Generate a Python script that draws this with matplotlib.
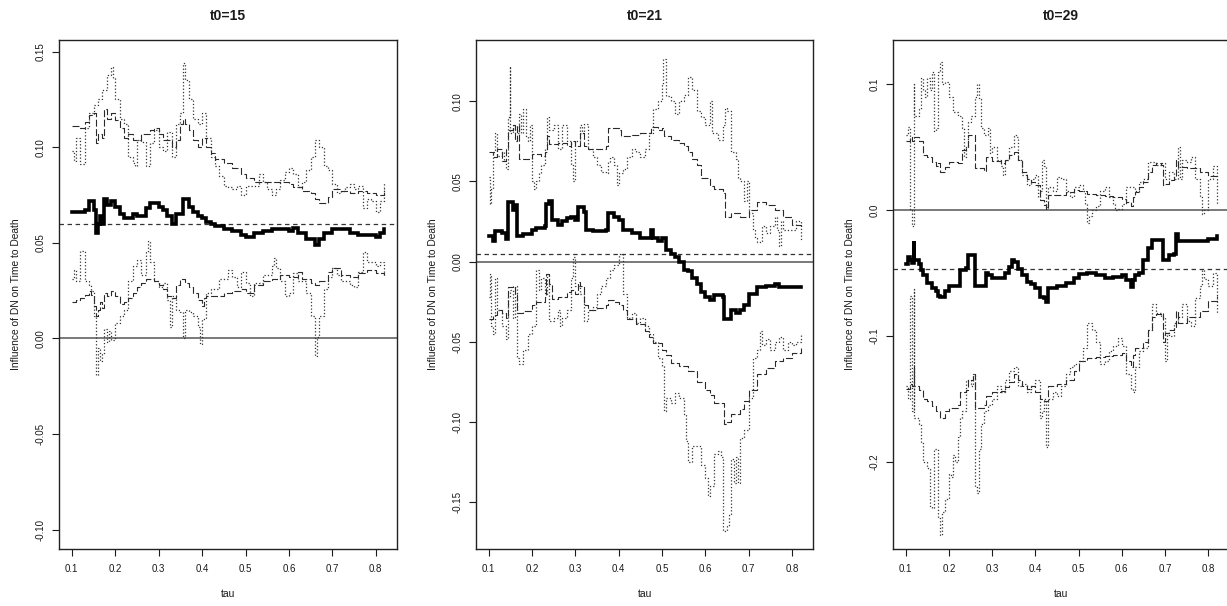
import matplotlib
matplotlib.use("Agg")
import matplotlib.pyplot as plt

plt.rcParams['font.family'] = ['Liberation Sans', 'DejaVu Sans']
plt.rcParams['lines.scale_dashes'] = False

titles = ["t0=15", "t0=21", "t0=29"]
xlabel = "tau"
ylabel = "Influence of DN on Time to Death"
xticks = [0.1, 0.2, 0.3, 0.4, 0.5, 0.6, 0.7, 0.8]
yticks_p1 = [-0.10, -0.05, 0.00, 0.05, 0.10, 0.15]
yticks_p2 = [-0.15, -0.10, -0.05, 0.00, 0.05, 0.10]
yticks_p3 = [-0.2, -0.1, 0.0, 0.1]
mean_levels = [0.0598, 0.005, -0.047]

# ---------------- panel 1 (t0=15) ----------------
p1_est_x = [0.10, 0.13, 0.14, 0.15, 0.155, 0.16, 0.165, 0.17, 0.175, 0.18, 0.19, 0.20, 0.21, 0.22, 0.24, 0.25, 0.27, 0.28,
            0.30, 0.31, 0.32, 0.33, 0.34, 0.355, 0.37, 0.38, 0.39, 0.40, 0.41, 0.42, 0.43, 0.45, 0.47, 0.49, 0.50, 0.52,
            0.54, 0.56, 0.58, 0.60, 0.61, 0.62, 0.64, 0.66, 0.67, 0.68, 0.70, 0.72, 0.74, 0.76, 0.78, 0.80, 0.81, 0.82]
p1_est_y = [0.066, 0.067, 0.072, 0.067, 0.055, 0.060, 0.064, 0.060, 0.073, 0.070, 0.072, 0.069, 0.065, 0.063, 0.065, 0.064, 0.068, 0.071,
            0.069, 0.067, 0.064, 0.060, 0.065, 0.073, 0.069, 0.066, 0.064, 0.063, 0.061, 0.060, 0.059, 0.057, 0.056, 0.054, 0.053, 0.055,
            0.056, 0.057, 0.057, 0.056, 0.058, 0.055, 0.052, 0.049, 0.052, 0.055, 0.057, 0.057, 0.055, 0.054, 0.054, 0.053, 0.055, 0.057]

p1_upd_x = [0.10, 0.12, 0.13, 0.14, 0.15, 0.155, 0.16, 0.17, 0.175, 0.18, 0.19, 0.20, 0.21, 0.22, 0.23, 0.24, 0.26, 0.28, 0.29,
            0.30, 0.31, 0.33, 0.34, 0.35, 0.355, 0.36, 0.37, 0.38, 0.39, 0.40, 0.41, 0.42, 0.43, 0.45, 0.47, 0.49, 0.50, 0.52,
            0.55, 0.58, 0.60, 0.61, 0.63, 0.65, 0.66, 0.67, 0.69, 0.70, 0.72, 0.74, 0.76, 0.78, 0.80, 0.82]
p1_upd_y = [0.111, 0.110, 0.113, 0.117, 0.118, 0.102, 0.107, 0.105, 0.120, 0.115, 0.118, 0.114, 0.110, 0.105, 0.107, 0.104, 0.107, 0.109, 0.110,
            0.107, 0.104, 0.100, 0.104, 0.112, 0.115, 0.112, 0.109, 0.104, 0.100, 0.105, 0.100, 0.097, 0.094, 0.092, 0.089, 0.086, 0.084, 0.082,
            0.082, 0.082, 0.081, 0.079, 0.077, 0.076, 0.073, 0.071, 0.074, 0.078, 0.077, 0.076, 0.077, 0.076, 0.075, 0.078]

p1_upt_x = [0.10, 0.105, 0.11, 0.12, 0.13, 0.14, 0.15, 0.16, 0.17, 0.18, 0.19, 0.195, 0.20, 0.21, 0.22, 0.23, 0.24, 0.245, 0.25, 0.26,
            0.27, 0.28, 0.29, 0.30, 0.31, 0.32, 0.33, 0.34, 0.35, 0.355, 0.36, 0.37, 0.38, 0.39, 0.40, 0.41, 0.42, 0.43, 0.44, 0.45,
            0.46, 0.47, 0.48, 0.49, 0.50, 0.52, 0.53, 0.54, 0.55, 0.56, 0.57, 0.58, 0.59, 0.60, 0.61, 0.62, 0.63, 0.64, 0.65, 0.66,
            0.67, 0.68, 0.69, 0.70, 0.71, 0.72, 0.73, 0.74, 0.75, 0.76, 0.77, 0.78, 0.79, 0.80, 0.81, 0.82]
p1_upt_y = [0.098, 0.093, 0.105, 0.091, 0.110, 0.118, 0.122, 0.125, 0.130, 0.138, 0.142, 0.136, 0.125, 0.115, 0.112, 0.095, 0.092, 0.090, 0.104, 0.103,
            0.090, 0.102, 0.109, 0.100, 0.098, 0.108, 0.095, 0.112, 0.118, 0.144, 0.135, 0.125, 0.115, 0.112, 0.118, 0.105, 0.095, 0.090, 0.085, 0.080,
            0.079, 0.078, 0.080, 0.075, 0.080, 0.080, 0.086, 0.082, 0.078, 0.075, 0.078, 0.083, 0.087, 0.089, 0.086, 0.079, 0.082, 0.088, 0.095, 0.104,
            0.100, 0.090, 0.088, 0.081, 0.076, 0.077, 0.079, 0.081, 0.078, 0.080, 0.068, 0.073, 0.072, 0.066, 0.072, 0.082]

p1_lod_x = [0.10, 0.11, 0.12, 0.13, 0.14, 0.145, 0.15, 0.155, 0.16, 0.165, 0.17, 0.175, 0.18, 0.19, 0.20, 0.21, 0.22, 0.23, 0.24, 0.25,
            0.26, 0.27, 0.29, 0.30, 0.31, 0.32, 0.33, 0.34, 0.35, 0.36, 0.37, 0.38, 0.39, 0.40, 0.405, 0.41, 0.43, 0.45, 0.47, 0.49,
            0.50, 0.52, 0.54, 0.56, 0.58, 0.60, 0.62, 0.63, 0.65, 0.66, 0.67, 0.69, 0.70, 0.72, 0.74, 0.76, 0.78, 0.80, 0.82]
p1_lod_y = [0.019, 0.020, 0.021, 0.023, 0.025, 0.023, 0.017, 0.012, 0.015, 0.019, 0.016, 0.024, 0.022, 0.025, 0.022, 0.018, 0.019, 0.021, 0.024, 0.027,
            0.029, 0.031, 0.030, 0.028, 0.026, 0.022, 0.021, 0.028, 0.031, 0.029, 0.027, 0.024, 0.020, 0.017, 0.021, 0.022, 0.022, 0.024, 0.025, 0.026,
            0.024, 0.028, 0.030, 0.031, 0.033, 0.032, 0.035, 0.031, 0.029, 0.028, 0.030, 0.035, 0.037, 0.033, 0.032, 0.034, 0.036, 0.034, 0.033]

p1_lot_x = [0.10, 0.105, 0.11, 0.12, 0.13, 0.14, 0.145, 0.15, 0.155, 0.16, 0.165, 0.17, 0.175, 0.18, 0.185, 0.19, 0.20, 0.21, 0.22, 0.23,
            0.24, 0.25, 0.26, 0.27, 0.275, 0.28, 0.29, 0.30, 0.31, 0.32, 0.325, 0.33, 0.34, 0.35, 0.355, 0.36, 0.37, 0.38, 0.39, 0.395,
            0.40, 0.41, 0.42, 0.44, 0.46, 0.47, 0.48, 0.49, 0.50, 0.51, 0.52, 0.54, 0.56, 0.565, 0.57, 0.58, 0.59, 0.60, 0.61, 0.62,
            0.64, 0.65, 0.66, 0.665, 0.67, 0.68, 0.69, 0.70, 0.71, 0.72, 0.74, 0.75, 0.76, 0.77, 0.78, 0.80, 0.81, 0.82]
p1_lot_y = [0.031, 0.036, 0.030, 0.046, 0.030, 0.028, 0.025, 0.012, -0.019, -0.005, -0.012, -0.008, 0.005, -0.002, 0.004, -0.001, 0.008, 0.012, 0.015, 0.030,
            0.038, 0.041, 0.033, 0.045, 0.051, 0.040, 0.030, 0.027, 0.029, 0.020, 0.006, 0.022, 0.015, 0.014, 0.000, 0.015, 0.014, 0.012, 0.006, -0.003,
            0.010, 0.024, 0.026, 0.031, 0.036, 0.032, 0.027, 0.035, 0.029, 0.022, 0.029, 0.033, 0.038, 0.042, 0.037, 0.030, 0.022, 0.024, 0.034, 0.030,
            0.024, 0.012, -0.009, 0.001, 0.012, 0.026, 0.032, 0.037, 0.033, 0.030, 0.028, 0.027, 0.035, 0.045, 0.040, 0.038, 0.040, 0.033]

# ---------------- panel 2 (t0=21) ----------------
p2_est_x = [0.10, 0.11, 0.115, 0.13, 0.14, 0.145, 0.155, 0.16, 0.165, 0.18, 0.20, 0.21, 0.23, 0.232, 0.24, 0.245, 0.26, 0.27, 0.28,
            0.29, 0.30, 0.305, 0.32, 0.325, 0.34, 0.37, 0.375, 0.39, 0.40, 0.41, 0.43, 0.45, 0.47, 0.475, 0.48, 0.49, 0.50, 0.51,
            0.52, 0.53, 0.54, 0.55, 0.56, 0.57, 0.58, 0.59, 0.60, 0.61, 0.62, 0.64, 0.642, 0.65, 0.66, 0.67, 0.68, 0.69, 0.70,
            0.72, 0.74, 0.76, 0.77, 0.80, 0.82]
p2_est_y = [0.016, 0.013, 0.019, 0.018, 0.014, 0.037, 0.032, 0.035, 0.016, 0.017, 0.020, 0.021, 0.022, 0.036, 0.038, 0.026, 0.023, 0.025, 0.027,
            0.028, 0.026, 0.034, 0.031, 0.020, 0.019, 0.020, 0.030, 0.028, 0.026, 0.020, 0.018, 0.015, 0.015, 0.020, 0.015, 0.013, 0.015, 0.007,
            0.005, 0.003, 0.000, -0.005, -0.006, -0.010, -0.014, -0.019, -0.022, -0.024, -0.021, -0.022, -0.036, -0.036, -0.030, -0.032, -0.030, -0.027, -0.020,
            -0.016, -0.015, -0.014, -0.016, -0.016, -0.016]

p2_upd_x = [0.10, 0.11, 0.12, 0.13, 0.14, 0.145, 0.155, 0.16, 0.165, 0.17, 0.19, 0.20, 0.22, 0.23, 0.235, 0.24, 0.26, 0.28, 0.29,
            0.30, 0.31, 0.32, 0.33, 0.35, 0.37, 0.375, 0.40, 0.405, 0.43, 0.45, 0.47, 0.475, 0.49, 0.50, 0.505, 0.52, 0.54, 0.55,
            0.56, 0.57, 0.58, 0.59, 0.61, 0.62, 0.64, 0.645, 0.66, 0.67, 0.68, 0.70, 0.72, 0.74, 0.76, 0.78, 0.80, 0.82]
p2_upd_y = [0.068, 0.065, 0.070, 0.063, 0.070, 0.082, 0.085, 0.075, 0.085, 0.064, 0.064, 0.067, 0.066, 0.068, 0.078, 0.073, 0.074, 0.072, 0.075,
            0.072, 0.080, 0.072, 0.070, 0.070, 0.072, 0.083, 0.082, 0.078, 0.079, 0.080, 0.080, 0.084, 0.082, 0.083, 0.078, 0.076, 0.074, 0.072,
            0.068, 0.064, 0.060, 0.052, 0.047, 0.045, 0.043, 0.028, 0.030, 0.030, 0.028, 0.032, 0.037, 0.035, 0.032, 0.028, 0.023, 0.021]

p2_upt_x = [0.10, 0.102, 0.105, 0.11, 0.115, 0.12, 0.13, 0.135, 0.14, 0.145, 0.148, 0.15, 0.155, 0.16, 0.17, 0.175, 0.18, 0.185, 0.19,
            0.195, 0.20, 0.205, 0.21, 0.215, 0.22, 0.23, 0.235, 0.24, 0.25, 0.26, 0.27, 0.28, 0.29, 0.295, 0.30, 0.31, 0.315, 0.32,
            0.33, 0.34, 0.35, 0.36, 0.37, 0.375, 0.38, 0.39, 0.395, 0.40, 0.41, 0.42, 0.43, 0.44, 0.45, 0.46, 0.47, 0.48, 0.49,
            0.50, 0.503, 0.51, 0.52, 0.53, 0.54, 0.55, 0.56, 0.57, 0.58, 0.59, 0.60, 0.61, 0.615, 0.62, 0.63, 0.64, 0.645, 0.65,
            0.66, 0.67, 0.675, 0.68, 0.69, 0.695, 0.70, 0.71, 0.715, 0.72, 0.73, 0.74, 0.75, 0.76, 0.765, 0.77, 0.775, 0.78, 0.80,
            0.81, 0.82]
p2_upt_y = [0.053, 0.036, 0.045, 0.068, 0.080, 0.066, 0.068, 0.063, 0.058, 0.090, 0.122, 0.080, 0.085, 0.080, 0.092, 0.080, 0.095, 0.078, 0.075,
            0.085, 0.050, 0.045, 0.050, 0.055, 0.060, 0.070, 0.090, 0.082, 0.085, 0.070, 0.085, 0.075, 0.060, 0.050, 0.075, 0.085, 0.080, 0.086,
            0.070, 0.065, 0.060, 0.056, 0.055, 0.062, 0.065, 0.060, 0.048, 0.055, 0.058, 0.065, 0.070, 0.068, 0.065, 0.070, 0.080, 0.095, 0.100,
            0.110, 0.126, 0.103, 0.100, 0.092, 0.100, 0.104, 0.115, 0.107, 0.094, 0.090, 0.085, 0.100, 0.080, 0.080, 0.076, 0.085, 0.096, 0.094,
            0.068, 0.064, 0.052, 0.050, 0.038, 0.050, 0.030, 0.020, 0.015, 0.012, 0.022, 0.018, 0.022, 0.028, 0.020, 0.010, 0.025, 0.020, 0.020,
            0.025, 0.013]

p2_lod_x = [0.10, 0.11, 0.12, 0.13, 0.14, 0.145, 0.155, 0.16, 0.165, 0.18, 0.20, 0.21, 0.23, 0.232, 0.24, 0.245, 0.26, 0.28, 0.29,
            0.30, 0.305, 0.31, 0.32, 0.33, 0.35, 0.37, 0.375, 0.39, 0.40, 0.41, 0.42, 0.44, 0.46, 0.47, 0.48, 0.50, 0.51, 0.52,
            0.54, 0.56, 0.58, 0.60, 0.61, 0.62, 0.64, 0.642, 0.65, 0.66, 0.68, 0.69, 0.70, 0.72, 0.74, 0.76, 0.78, 0.80, 0.82]
p2_lod_y = [-0.036, -0.033, -0.030, -0.032, -0.035, -0.016, -0.015, -0.020, -0.032, -0.031, -0.027, -0.025, -0.022, -0.008, -0.014, -0.023, -0.022, -0.019, -0.018,
            -0.020, -0.013, -0.015, -0.027, -0.030, -0.029, -0.027, -0.024, -0.025, -0.027, -0.030, -0.036, -0.039, -0.043, -0.047, -0.051, -0.055, -0.058, -0.063,
            -0.065, -0.068, -0.075, -0.080, -0.083, -0.088, -0.088, -0.101, -0.100, -0.095, -0.092, -0.087, -0.080, -0.070, -0.066, -0.062, -0.060, -0.057, -0.054]

p2_lot_x = [0.10, 0.102, 0.105, 0.11, 0.115, 0.12, 0.13, 0.14, 0.145, 0.15, 0.155, 0.16, 0.165, 0.17, 0.18, 0.19, 0.20, 0.21, 0.215,
            0.22, 0.23, 0.235, 0.24, 0.25, 0.26, 0.265, 0.27, 0.28, 0.29, 0.295, 0.30, 0.31, 0.32, 0.33, 0.34, 0.35, 0.36, 0.37,
            0.38, 0.39, 0.40, 0.41, 0.42, 0.43, 0.44, 0.45, 0.46, 0.47, 0.48, 0.49, 0.50, 0.505, 0.51, 0.52, 0.53, 0.54, 0.55,
            0.555, 0.56, 0.57, 0.58, 0.59, 0.60, 0.605, 0.61, 0.62, 0.63, 0.635, 0.64, 0.65, 0.655, 0.66, 0.665, 0.67, 0.675, 0.68,
            0.69, 0.70, 0.71, 0.72, 0.725, 0.73, 0.74, 0.75, 0.76, 0.77, 0.78, 0.79, 0.80, 0.81, 0.82]
p2_lot_y = [-0.022, -0.008, -0.040, -0.045, -0.010, -0.030, -0.040, -0.048, -0.022, -0.018, -0.035, -0.015, -0.060, -0.064, -0.055, -0.045, -0.040, -0.005, -0.018,
            -0.010, -0.020, -0.008, -0.037, -0.035, -0.030, -0.040, -0.035, -0.030, -0.010, 0.003, -0.015, -0.020, -0.037, -0.030, -0.028, -0.020, -0.015, -0.010,
            -0.005, -0.002, 0.005, -0.020, -0.035, -0.032, -0.038, -0.035, -0.040, -0.045, -0.050, -0.060, -0.065, -0.093, -0.085, -0.088, -0.082, -0.085, -0.095,
            -0.112, -0.125, -0.115, -0.115, -0.127, -0.135, -0.146, -0.140, -0.120, -0.118, -0.122, -0.168, -0.165, -0.158, -0.123, -0.138, -0.122, -0.138, -0.110,
            -0.105, -0.085, -0.060, -0.055, -0.043, -0.052, -0.048, -0.055, -0.050, -0.047, -0.055, -0.050, -0.052, -0.050, -0.046]

# ---------------- panel 3 (t0=29) ----------------
p3_est_x = [0.10, 0.105, 0.11, 0.115, 0.118, 0.12, 0.13, 0.135, 0.14, 0.15, 0.16, 0.17, 0.175, 0.18, 0.19, 0.20, 0.22, 0.225, 0.24,
            0.245, 0.255, 0.26, 0.28, 0.285, 0.29, 0.30, 0.32, 0.33, 0.34, 0.345, 0.35, 0.36, 0.37, 0.38, 0.39, 0.40, 0.41, 0.42,
            0.425, 0.43, 0.45, 0.47, 0.49, 0.50, 0.52, 0.54, 0.56, 0.58, 0.60, 0.61, 0.62, 0.625, 0.63, 0.64, 0.65, 0.66, 0.67,
            0.69, 0.695, 0.71, 0.72, 0.725, 0.73, 0.75, 0.78, 0.80, 0.82]
p3_est_y = [-0.043, -0.037, -0.040, -0.042, -0.025, -0.040, -0.043, -0.048, -0.052, -0.058, -0.062, -0.064, -0.068, -0.069, -0.064, -0.060, -0.060, -0.048, -0.046,
            -0.036, -0.036, -0.060, -0.060, -0.050, -0.052, -0.054, -0.054, -0.050, -0.045, -0.040, -0.041, -0.047, -0.052, -0.057, -0.059, -0.062, -0.069, -0.070,
            -0.073, -0.062, -0.060, -0.058, -0.054, -0.051, -0.050, -0.052, -0.054, -0.053, -0.052, -0.056, -0.061, -0.056, -0.052, -0.050, -0.040, -0.030, -0.024,
            -0.024, -0.040, -0.036, -0.035, -0.019, -0.025, -0.025, -0.025, -0.023, -0.021]

p3_upd_x = [0.10, 0.11, 0.115, 0.12, 0.13, 0.14, 0.15, 0.16, 0.17, 0.175, 0.18, 0.19, 0.20, 0.22, 0.23, 0.24, 0.245, 0.255, 0.26,
            0.28, 0.285, 0.30, 0.32, 0.33, 0.34, 0.35, 0.36, 0.37, 0.38, 0.39, 0.40, 0.41, 0.42, 0.425, 0.43, 0.45, 0.47, 0.49,
            0.50, 0.52, 0.54, 0.56, 0.58, 0.60, 0.61, 0.62, 0.625, 0.63, 0.64, 0.65, 0.66, 0.67, 0.68, 0.69, 0.695, 0.70, 0.71,
            0.72, 0.725, 0.73, 0.75, 0.78, 0.80, 0.82]
p3_upd_y = [0.055, 0.058, 0.055, 0.058, 0.055, 0.044, 0.042, 0.038, 0.035, 0.037, 0.030, 0.034, 0.038, 0.037, 0.048, 0.050, 0.060, 0.060, 0.033,
            0.031, 0.042, 0.039, 0.037, 0.040, 0.044, 0.046, 0.040, 0.030, 0.025, 0.022, 0.020, 0.008, 0.004, 0.001, 0.012, 0.012, 0.014, 0.016,
            0.015, 0.013, 0.012, 0.011, 0.010, 0.009, 0.006, 0.003, 0.010, 0.014, 0.018, 0.022, 0.030, 0.036, 0.037, 0.036, 0.020, 0.021, 0.024,
            0.026, 0.040, 0.034, 0.033, 0.030, 0.027, 0.025]

p3_upt_x = [0.10, 0.105, 0.11, 0.115, 0.118, 0.12, 0.13, 0.135, 0.14, 0.145, 0.15, 0.155, 0.16, 0.165, 0.17, 0.175, 0.18, 0.185, 0.19,
            0.20, 0.21, 0.22, 0.23, 0.235, 0.24, 0.245, 0.25, 0.26, 0.265, 0.27, 0.275, 0.28, 0.29, 0.295, 0.30, 0.31, 0.32, 0.325,
            0.33, 0.34, 0.35, 0.355, 0.36, 0.37, 0.38, 0.39, 0.40, 0.405, 0.41, 0.415, 0.42, 0.425, 0.43, 0.44, 0.45, 0.46, 0.47,
            0.48, 0.49, 0.50, 0.51, 0.515, 0.52, 0.525, 0.53, 0.54, 0.55, 0.56, 0.57, 0.58, 0.585, 0.59, 0.60, 0.61, 0.62, 0.63,
            0.64, 0.65, 0.66, 0.67, 0.68, 0.69, 0.70, 0.71, 0.72, 0.73, 0.735, 0.74, 0.75, 0.76, 0.77, 0.78, 0.785, 0.79, 0.80,
            0.81, 0.82]
p3_upt_y = [0.060, 0.066, 0.000, -0.013, 0.100, 0.075, 0.080, 0.105, 0.095, 0.090, 0.105, 0.095, 0.110, 0.063, 0.065, 0.110, 0.118, 0.100, 0.102,
            0.090, 0.078, 0.075, 0.065, 0.042, 0.050, 0.070, 0.075, 0.090, 0.100, 0.088, 0.065, 0.060, 0.065, 0.045, 0.050, 0.040, 0.035, 0.028,
            0.040, 0.050, 0.060, 0.058, 0.040, 0.028, 0.020, 0.025, 0.028, 0.010, 0.015, 0.040, 0.035, 0.002, 0.018, 0.015, 0.026, 0.025, 0.015,
            0.010, 0.018, 0.020, 0.015, 0.005, -0.010, -0.005, 0.000, 0.003, 0.015, 0.018, 0.010, 0.005, 0.000, 0.001, 0.005, 0.018, 0.018, 0.015,
            0.022, 0.025, 0.038, 0.038, 0.036, 0.037, 0.025, 0.030, 0.025, 0.050, 0.025, 0.040, 0.038, 0.042, 0.025, 0.010, -0.003, 0.000, 0.025,
            0.035, 0.005]

p3_lod_x = [0.10, 0.11, 0.115, 0.118, 0.12, 0.13, 0.14, 0.15, 0.16, 0.17, 0.18, 0.19, 0.20, 0.22, 0.225, 0.24, 0.245, 0.255, 0.26,
            0.28, 0.285, 0.30, 0.32, 0.33, 0.34, 0.35, 0.36, 0.37, 0.38, 0.39, 0.40, 0.41, 0.42, 0.43, 0.45, 0.47, 0.49, 0.50,
            0.52, 0.54, 0.56, 0.58, 0.60, 0.61, 0.62, 0.625, 0.63, 0.64, 0.65, 0.66, 0.67, 0.68, 0.69, 0.695, 0.70, 0.71, 0.72,
            0.725, 0.73, 0.75, 0.78, 0.80, 0.82]
p3_lod_y = [-0.142, -0.138, -0.140, -0.125, -0.140, -0.143, -0.150, -0.152, -0.156, -0.160, -0.165, -0.160, -0.157, -0.155, -0.145, -0.143, -0.135, -0.130, -0.157,
            -0.155, -0.148, -0.145, -0.144, -0.141, -0.137, -0.130, -0.135, -0.140, -0.142, -0.140, -0.145, -0.150, -0.152, -0.140, -0.138, -0.135, -0.128, -0.120,
            -0.118, -0.117, -0.116, -0.115, -0.114, -0.120, -0.125, -0.115, -0.110, -0.110, -0.105, -0.095, -0.085, -0.083, -0.082, -0.105, -0.098, -0.095, -0.093,
            -0.080, -0.090, -0.085, -0.080, -0.072, -0.068]

p3_lot_x = [0.10, 0.105, 0.11, 0.115, 0.118, 0.12, 0.13, 0.135, 0.14, 0.15, 0.155, 0.16, 0.165, 0.17, 0.175, 0.18, 0.185, 0.19, 0.20,
            0.205, 0.21, 0.215, 0.22, 0.225, 0.23, 0.24, 0.25, 0.255, 0.26, 0.265, 0.27, 0.275, 0.28, 0.29, 0.30, 0.31, 0.32, 0.33,
            0.34, 0.35, 0.36, 0.37, 0.38, 0.39, 0.40, 0.41, 0.415, 0.42, 0.425, 0.43, 0.44, 0.45, 0.46, 0.47, 0.48, 0.49, 0.50,
            0.51, 0.52, 0.53, 0.54, 0.55, 0.56, 0.57, 0.58, 0.59, 0.60, 0.61, 0.62, 0.625, 0.63, 0.64, 0.65, 0.66, 0.67, 0.68,
            0.69, 0.70, 0.705, 0.71, 0.72, 0.73, 0.74, 0.75, 0.76, 0.77, 0.78, 0.785, 0.79, 0.80, 0.81, 0.82]
p3_lot_y = [-0.140, -0.150, -0.068, -0.160, -0.063, -0.165, -0.170, -0.185, -0.200, -0.205, -0.235, -0.237, -0.190, -0.190, -0.245, -0.258, -0.240, -0.230, -0.210,
            -0.212, -0.195, -0.200, -0.180, -0.165, -0.160, -0.135, -0.140, -0.130, -0.220, -0.225, -0.190, -0.170, -0.160, -0.155, -0.150, -0.140, -0.145, -0.135,
            -0.128, -0.125, -0.140, -0.138, -0.145, -0.140, -0.135, -0.165, -0.160, -0.150, -0.188, -0.150, -0.145, -0.148, -0.140, -0.130, -0.125, -0.122, -0.120,
            -0.110, -0.090, -0.095, -0.105, -0.122, -0.120, -0.112, -0.108, -0.102, -0.108, -0.130, -0.142, -0.145, -0.125, -0.112, -0.110, -0.095, -0.075, -0.082,
            -0.085, -0.120, -0.098, -0.100, -0.090, -0.085, -0.075, -0.088, -0.092, -0.070, -0.060, -0.048, -0.055, -0.060, -0.050, -0.082]

panels = [
    dict(title=titles[0], yticks=yticks_p1, fmt="{:.2f}", ylim=(-0.1101, 0.1561), mean=mean_levels[0],
         est=(p1_est_x, p1_est_y), upd=(p1_upd_x, p1_upd_y), upt=(p1_upt_x, p1_upt_y),
         lod=(p1_lod_x, p1_lod_y), lot=(p1_lot_x, p1_lot_y), left=59.3, right=397.0),
    dict(title=titles[1], yticks=yticks_p2, fmt="{:.2f}", ylim=(-0.1791, 0.1381), mean=mean_levels[1],
         est=(p2_est_x, p2_est_y), upd=(p2_upd_x, p2_upd_y), upt=(p2_upt_x, p2_upt_y),
         lod=(p2_lod_x, p2_lod_y), lot=(p2_lot_x, p2_lot_y), left=476.3, right=813.3),
    dict(title=titles[2], yticks=yticks_p3, fmt="{:.1f}", ylim=(-0.2694, 0.1351), mean=mean_levels[2],
         est=(p3_est_x, p3_est_y), upd=(p3_upd_x, p3_upd_y), upt=(p3_upt_x, p3_upt_y),
         lod=(p3_lod_x, p3_lod_y), lot=(p3_lot_x, p3_lot_y), left=893.3, right=1229.4),
]

W, H = 1227, 606
top_px, bot_px = 40.0, 549.0
fig = plt.figure(figsize=(W / 100, H / 100), dpi=100)

ink = "#1a1a1a"
for p in panels:
    ax = fig.add_axes([p["left"] / W, (H - bot_px) / H, (p["right"] - p["left"]) / W, (bot_px - top_px) / H])
    ax.set_xlim(0.0712, 0.8488)
    ax.set_ylim(*p["ylim"])
    ax.axhline(0.0, color="#555555", lw=1.1, zorder=1)
    ax.axhline(p["mean"], color="#333333", lw=0.9, linestyle=(0, (3.2, 2.6)), zorder=1)
    for key in ("upd", "lod"):
        xs, ys = p[key]
        ax.plot(xs, ys, drawstyle="steps-post", color="#2a2a2a", lw=0.8, linestyle=(0, (5.0, 1.8)), zorder=2)
    for key in ("upt", "lot"):
        xs, ys = p[key]
        ax.plot(xs, ys, drawstyle="steps-post", color="#333333", lw=0.9, linestyle=(0, (0.9, 1.5)), zorder=2)
    xs, ys = p["est"]
    ax.plot(xs, ys, drawstyle="steps-post", color="black", lw=2.6, zorder=3, solid_joinstyle="miter")

    ax.set_xticks(xticks)
    ax.set_xticklabels(["{:.1f}".format(v) for v in xticks])
    ax.set_yticks(p["yticks"])
    ax.set_yticklabels([p["fmt"].format(v) for v in p["yticks"]])
    ax.tick_params(axis="both", direction="out", length=5, width=0.8, labelsize=7, colors=ink)
    ax.tick_params(axis="x", pad=6)
    ax.tick_params(axis="y", pad=5)
    for lab in ax.get_yticklabels():
        lab.set_rotation(90)
        lab.set_va("center")
    for s in ax.spines.values():
        s.set_linewidth(1.0)
        s.set_color("#222222")
    axw = p["right"] - p["left"]
    axh = bot_px - top_px
    ax.text(0.5, 1 + 24.3 / axh, p["title"], transform=ax.transAxes, ha="center", va="center",
            fontsize=10, fontweight="bold", color=ink)
    ax.text(0.5, -45.0 / axh, xlabel, transform=ax.transAxes, ha="center", va="center", fontsize=7.5, color=ink)
    ax.text(-43.0 / axw, 0.5, ylabel, transform=ax.transAxes, ha="center", va="center", rotation=90,
            fontsize=7.4, color=ink)

fig.savefig("out.png", dpi=100)
